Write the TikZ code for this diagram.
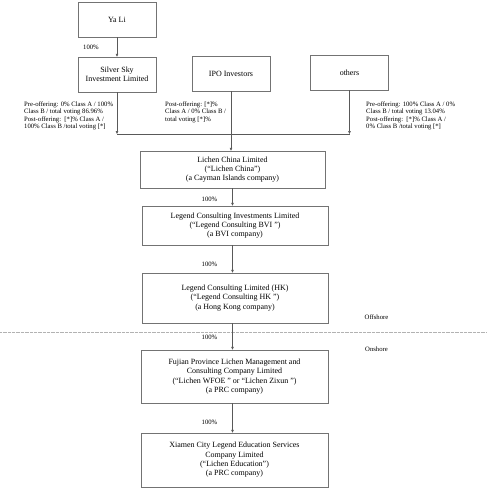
\documentclass[tikz,border=0pt]{standalone}
\usepackage{fontspec}
\setmainfont{Liberation Serif}
\usetikzlibrary{arrows.meta}
\begin{document}
\begin{tikzpicture}[x=1bp,y=-1bp,
  box/.style={draw=black!55,line width=0.5pt,rectangle,inner sep=0pt,align=center,
    font=\fontsize{8}{9.4}\selectfont},
  note/.style={inner sep=0pt,align=left,font=\fontsize{6.7}{7.4}\selectfont},
  pct/.style={inner sep=0pt,font=\fontsize{6.7}{7.4}\selectfont},
  area/.style={inner sep=0pt,font=\fontsize{6.7}{7.4}\selectfont},
  link/.style={draw=black!65,line width=0.45pt},
  arr/.style={link,-{Triangle[length=2.8pt,width=2.4pt]}}]
\useasboundingbox (0,0) rectangle (487,492);
% boxes
\node[box,minimum width=78bp,minimum height=35bp] (yali) at (117,19.5) {Ya Li};
\node[box,minimum width=78bp,minimum height=35bp] (silver) at (117,74.5) {Silver Sky\\Investment Limited};
\node[box,minimum width=78bp,minimum height=35bp] (ipo) at (231,73.5) {IPO Investors};
\node[box,minimum width=78bp,minimum height=35bp] (others) at (349.5,72.5) {others};
\node[box,minimum width=185bp,minimum height=37bp] (china) at (232.5,169.5) {Lichen China Limited\\(“Lichen China”)\\(a Cayman Islands company)};
\node[box,minimum width=186bp,minimum height=39bp] (bvi) at (235,225.5) {Legend Consulting Investments Limited\\(“Legend Consulting BVI ”)\\(a BVI company)};
\node[box,minimum width=186bp,minimum height=50bp] (hk) at (235,298) {Legend Consulting Limited (HK)\\(“Legend Consulting HK ”)\\(a Hong Kong company)};
\node[box,minimum width=187bp,minimum height=53bp] (fujian) at (234.5,376.5) {Fujian Province Lichen Management and\\Consulting Company Limited\\(“Lichen WFOE ” or “Lichen Zixun ”)\\(a PRC company)};
\node[box,minimum width=187bp,minimum height=54bp] (xiamen) at (234.5,460) {Xiamen City Legend Education Services\\Company Limited\\(“Lichen Education”)\\(a PRC company)};
% labels
\node[pct,anchor=west] (p0) at (83,47) {100\%};
\node[note,anchor=west] (nl) at (24,115.7) {Pre-offering: 0\% Class A / 100\%\\Class B / total voting 86.96\%\\Post-offering:\ \ [*]\% Class A /\\100\% Class B /total voting [*]};
\node[note,anchor=west] (nm) at (165,112) {Post-offering: [*]\%\\Class A / 0\% Class B /\\total voting [*]\%};
\node[note,anchor=west] (nr) at (366,115.7) {Pre-offering: 100\% Class A / 0\%\\Class B / total voting 13.04\%\\Post-offering:\ \ [*]\% Class A /\\0\% Class B /total voting [*]};
\node[pct] (p1) at (209.5,199) {100\%};
\node[pct] (p2) at (209.5,264) {100\%};
\node[pct] (p3) at (209.5,337) {100\%};
\node[pct] (p4) at (209.5,422) {100\%};
\node[area] (off) at (376.5,317) {Offshore};
\node[area] (on) at (376.5,349) {Onshore};
% divider
\coordinate (dl) at (0,332.5);
\coordinate (dr) at (487,332.5);
\draw[black!30,line width=0.6pt,dash pattern=on 0.6pt off 0.7pt] (dl) -- (dr);
% connectors
\coordinate (bus) at (0,134);
\draw[arr] (yali.south) -- (silver.north);
\draw[arr] (silver.south) -- (silver.south |- bus);
\draw[link] (silver.south |- bus) -- (others.south |- bus);
\draw[arr] (others.south) -- (others.south |- bus);
\draw[arr] (ipo.south) -- (ipo.south |- china.north);
\draw[arr] (china.south) -- (china.south |- bvi.north);
\draw[arr] (bvi.south -| china.south) -- (china.south |- hk.north);
\draw[arr] (hk.south -| china.south) -- (china.south |- fujian.north);
\draw[arr] (fujian.south -| china.south) -- (china.south |- xiamen.north);
\end{tikzpicture}
\end{document}
